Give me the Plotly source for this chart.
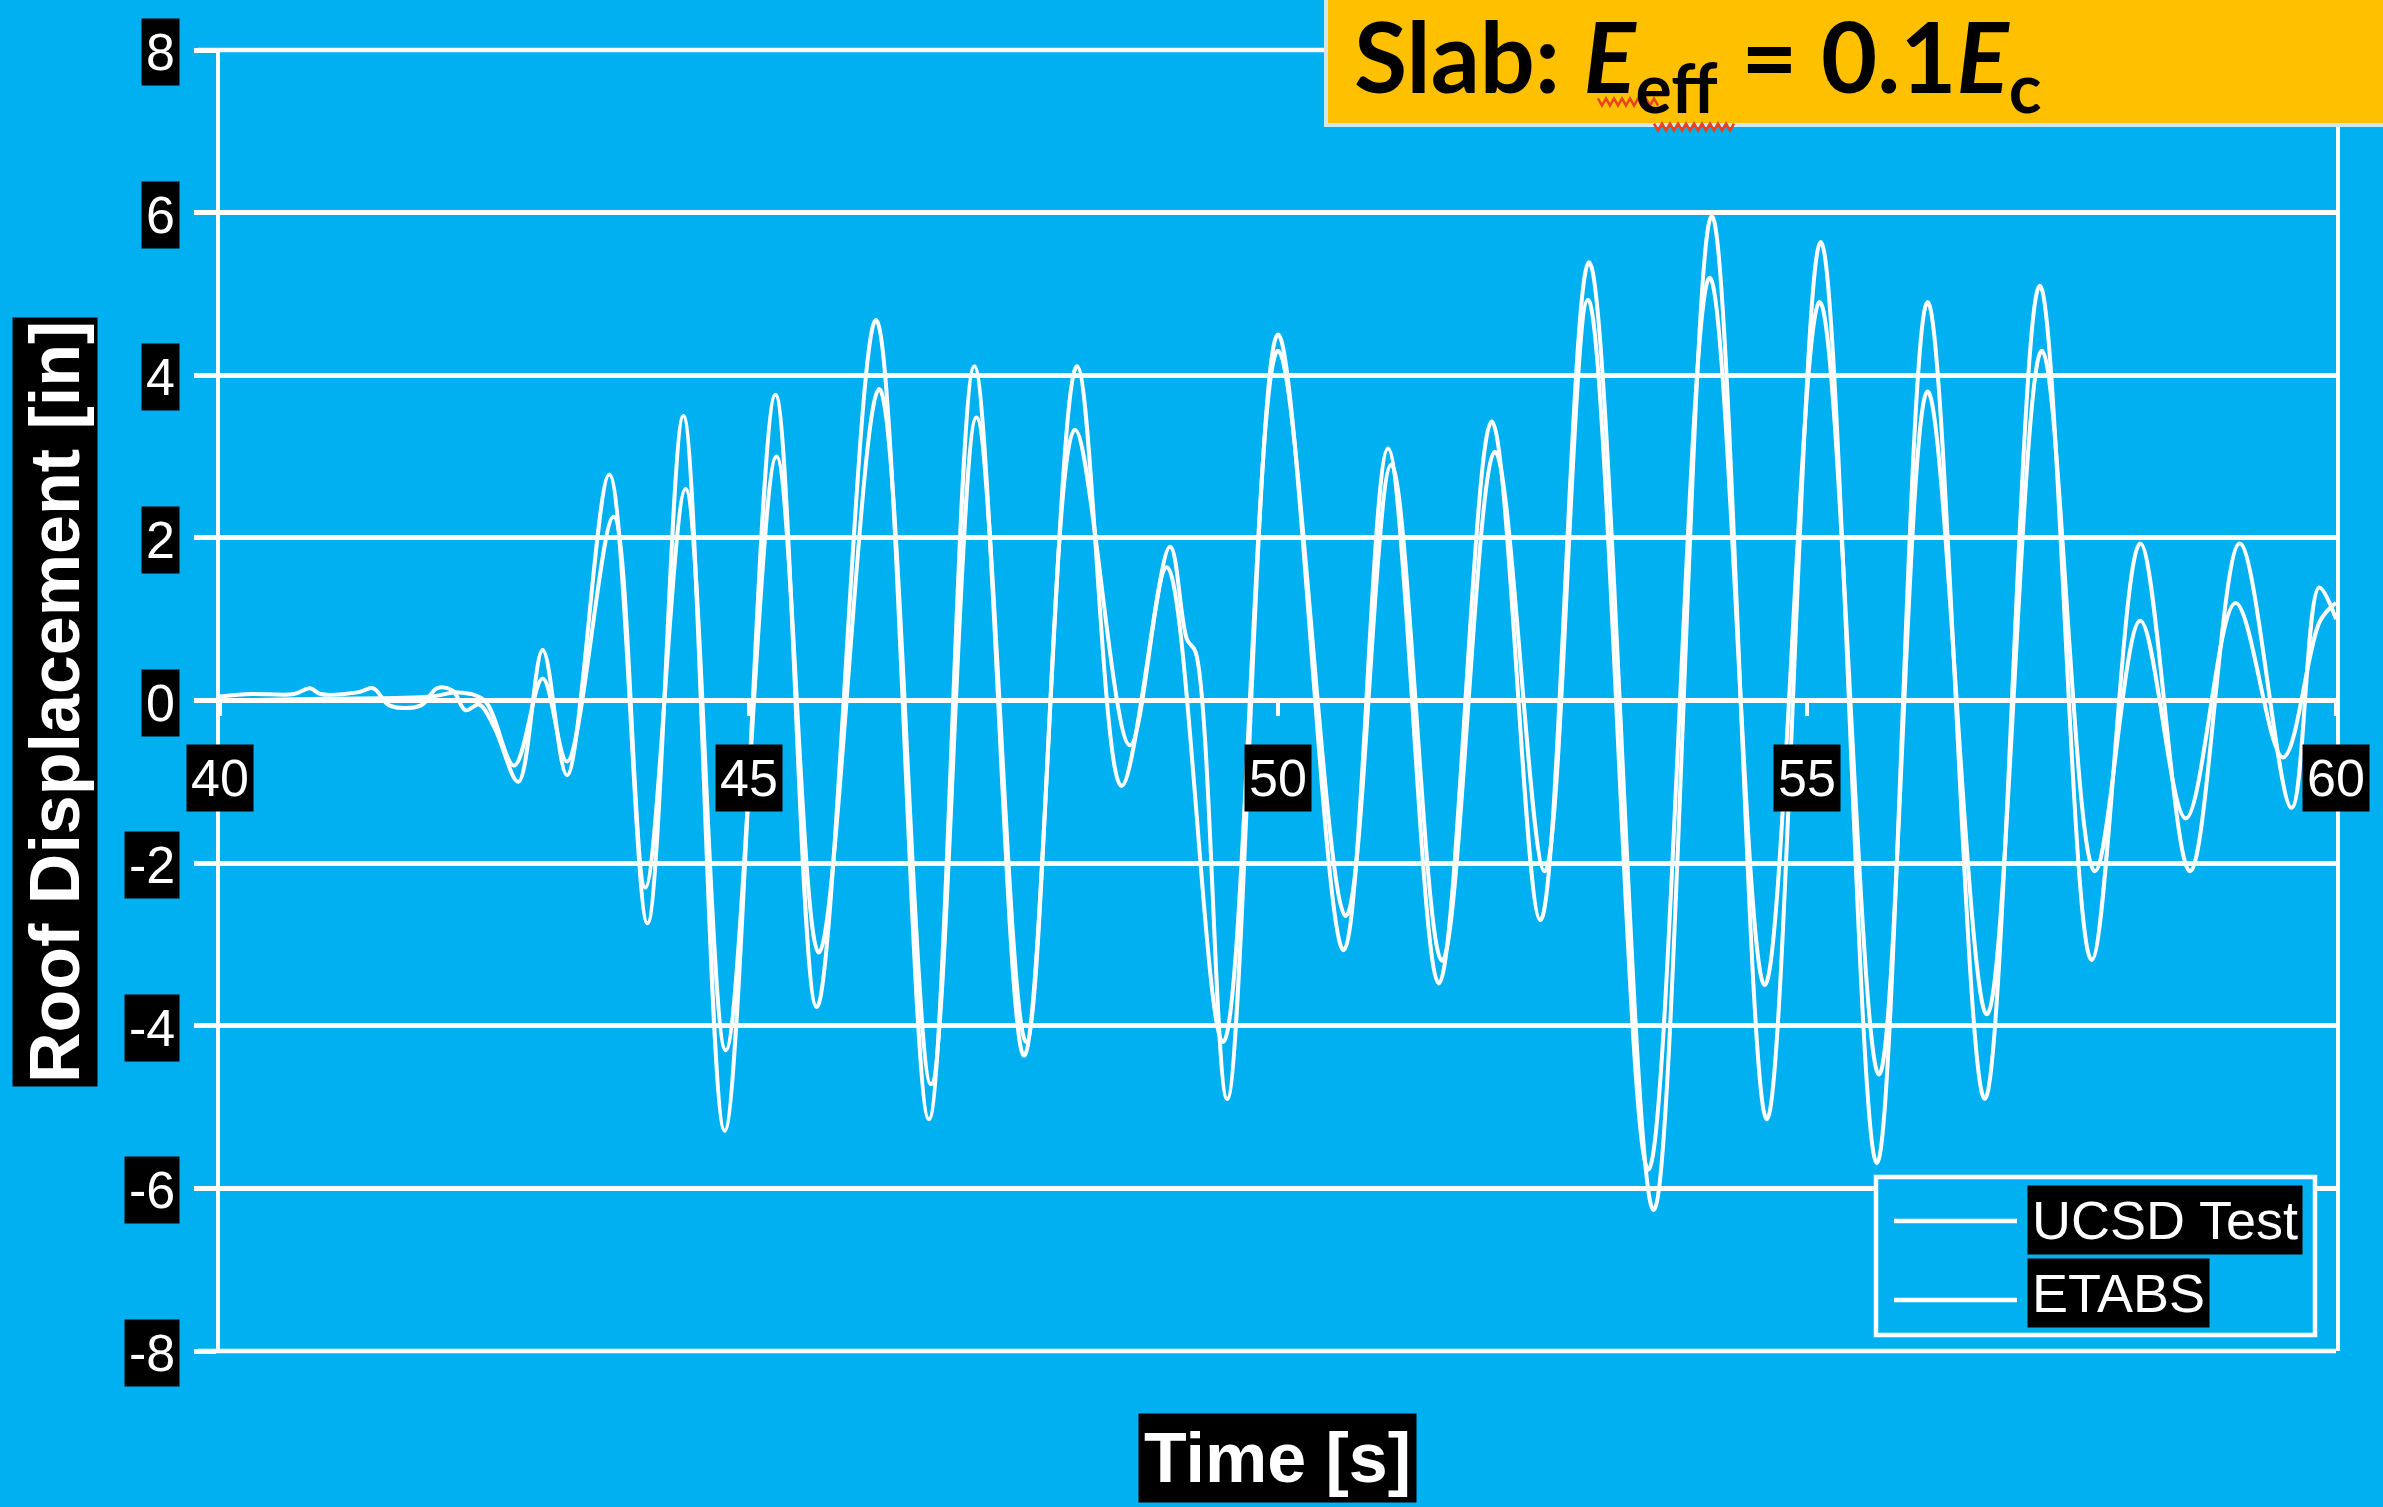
import plotly.graph_objects as go

# ---- data -------------------------------------------------------------
ucsd_t = [40.00, 40.30, 40.70, 40.85, 40.95, 41.30, 41.45, 41.60, 41.90, 42.05,
          42.20, 42.32, 42.45, 42.60, 42.82, 43.05, 43.28, 43.68, 44.04, 44.38,
          44.77, 45.25, 45.64, 46.20, 46.70, 47.13, 47.60, 48.10, 48.52, 48.98,
          49.14, 49.22, 49.52, 50.00, 50.62, 51.04, 51.52, 52.02, 52.48, 52.94,
          53.55, 54.10, 54.62, 55.13, 55.66, 56.14, 56.68, 57.20, 57.69, 58.15,
          58.62, 59.09, 59.58, 59.84, 60.00]
ucsd_disp = [0.05, 0.08, 0.08, 0.15, 0.08, 0.10, 0.15, -0.06, -0.06, 0.15,
             0.12, -0.12, -0.05, -0.35, -1.00, 0.62, -0.92, 2.78, -2.74, 3.50,
             -5.29, 3.76, -3.77, 4.68, -5.15, 4.11, -4.37, 4.11, -1.05, 1.89,
             0.75, 0.60, -4.90, 4.50, -3.07, 3.10, -3.48, 3.43, -2.70, 5.39,
             -6.27, 5.96, -5.15, 5.64, -5.69, 4.90, -4.90, 5.10, -3.19, 1.93,
             -2.10, 1.93, -1.32, 1.39, 1.00]

etabs_t = [40.00, 41.00, 42.00, 42.25, 42.50, 42.78, 43.05, 43.28, 43.72, 44.02,
           44.40, 44.78, 45.26, 45.66, 46.23, 46.72, 47.15, 47.62, 48.08, 48.60,
           48.95, 49.48, 50.00, 50.64, 51.07, 51.55, 52.05, 52.52, 52.93, 53.50,
           54.08, 54.60, 55.12, 55.68, 56.14, 56.70, 57.22, 57.72, 58.15, 58.58,
           59.05, 59.50, 59.85, 60.00]
etabs_disp = [0.00, 0.02, 0.05, 0.10, 0.00, -0.80, 0.27, -0.75, 2.26, -2.30,
              2.60, -4.30, 3.00, -3.10, 3.83, -4.72, 3.48, -4.20, 3.33, -0.55,
              1.64, -4.20, 4.30, -2.65, 2.90, -3.20, 3.06, -2.10, 4.93, -5.77,
              5.20, -3.50, 4.90, -4.60, 3.80, -3.86, 4.30, -2.10, 0.98, -1.45,
              1.20, -0.70, 0.98, 1.20]

x_ticks = [40, 45, 50, 55, 60]
y_ticks = [8, 6, 4, 2, 0, -2, -4, -6, -8]
series_names = ["UCSD Test", "ETABS"]

# ---- page geometry (pixels) ------------------------------------------
W, H = 2383, 1507
L, R, T, B = 220, 2336, 50, 1351
BG = "#00B0F0"
ORANGE = "#FFC000"


def px(x):
    return (x - L) / (R - L)


def py(y):
    return (B - y) / (B - T)


fig = go.Figure()
for t, v, name in [(ucsd_t, ucsd_disp, series_names[0]),
                   (etabs_t, etabs_disp, series_names[1])]:
    fig.add_trace(go.Scatter(x=t, y=v, mode="lines", name=name,
                             line=dict(color="white", width=4,
                                       shape="spline", smoothing=1.0),
                             showlegend=False))

tick_font = dict(family="Liberation Sans, Arial, sans-serif", size=52, color="white")
title_font = dict(family="Liberation Sans, Arial, sans-serif", size=70, color="white")

annotations = []
# y tick labels in black boxes
for v in y_ticks:
    annotations.append(dict(x=0, xref="paper", xanchor="right", xshift=-40,
                            y=v, yref="y", yanchor="middle", yshift=-2,
                            text=str(v), showarrow=False, font=tick_font,
                            bgcolor="black", borderpad=4))
# x tick labels hanging below the zero line
for t in x_ticks:
    annotations.append(dict(x=t, xref="x", xanchor="center",
                            y=0, yref="y", yanchor="top", yshift=-43,
                            text=str(t), showarrow=False, font=tick_font,
                            bgcolor="black", borderpad=4))
# axis titles
annotations.append(dict(x=px(55), xref="paper", xanchor="center",
                        y=py(702), yref="paper", yanchor="middle",
                        text="<b>Roof Displacement [in]</b>", textangle=-90,
                        showarrow=False, font=title_font, bgcolor="black", borderpad=3))
annotations.append(dict(x=px(1277), xref="paper", xanchor="center",
                        y=py(1458), yref="paper", yanchor="middle",
                        text="<b>Time [s]</b>", showarrow=False,
                        font=title_font, bgcolor="black", borderpad=5))
# banner text
annotations.append(dict(x=px(1352), xref="paper", xanchor="left",
                        y=py(62), yref="paper", yanchor="middle",
                        text="<b>Slab: <i>E</i><sub>eff</sub> = 0.1<i>E</i><sub>c</sub></b>",
                        showarrow=False,
                        font=dict(family="Lato, sans-serif", size=97, color="black")))
# legend labels
legend_font = dict(family="Liberation Sans, Arial, sans-serif", size=54, color="white")
for name, yc in zip(series_names, [1220, 1293]):
    annotations.append(dict(x=px(2027), xref="paper", xanchor="left",
                            y=py(yc), yref="paper", yanchor="middle",
                            text=name, showarrow=False, font=legend_font,
                            bgcolor="black", borderpad=4))

shapes = [
    # top and bottom gridlines, which close the frame
    dict(type="line", xref="paper", yref="paper", layer="below",
         x0=px(198), x1=1, y0=1, y1=1, line=dict(color="white", width=4.5)),
    dict(type="line", xref="paper", yref="paper", layer="below",
         x0=px(198), x1=1, y0=0, y1=0, line=dict(color="white", width=4.5)),
    # banner box
    dict(type="rect", xref="paper", yref="paper", layer="above",
         x0=px(1326), x1=px(2400), y0=py(125), y1=py(-10),
         fillcolor=ORANGE, line=dict(color="#D3E6EE", width=4)),
    # legend frame
    dict(type="rect", xref="paper", yref="paper", layer="above",
         x0=px(1876), x1=px(2315), y0=py(1335), y1=py(1177),
         fillcolor=BG, line=dict(color="white", width=4.5)),
]
for yc in [1221, 1300]:
    shapes.append(dict(type="line", xref="paper", yref="paper", layer="above",
                       x0=px(1894), x1=px(2017), y0=py(yc), y1=py(yc),
                       line=dict(color="white", width=4.5)))


def wavy(x0, x1, y, amp=3.5, step=4):
    """Zig-zag proofing underline, built in pixel space."""
    pts, k, x = [], 0, x0
    while x <= x1:
        pts.append((px(x), py(y + (amp if k % 2 else -amp))))
        x += step
        k += 1
    return "M " + " L ".join(f"{a:.5f},{b:.5f}" for a, b in pts)


for x0, x1, y in [(1598, 1658, 102), (1654, 1736, 127)]:
    shapes.append(dict(type="path", xref="paper", yref="paper", layer="above",
                       path=wavy(x0, x1, y),
                       line=dict(color="#E8401C", width=2.5)))

fig.update_layout(
    width=W, height=H,
    margin=dict(l=L, r=W - R, t=T, b=H - B, pad=0),
    paper_bgcolor=BG, plot_bgcolor=BG,
    showlegend=False,
    annotations=annotations, shapes=shapes,
    xaxis=dict(range=[40, 60], showgrid=False, zeroline=False,
               anchor="free", position=0.5, showline=False,
               ticks="outside", tickvals=x_ticks, ticklen=14, tickwidth=4,
               tickcolor="white", showticklabels=False),
    yaxis=dict(range=[-8, 8], tickvals=y_ticks, showgrid=True,
               gridcolor="white", gridwidth=4.5, zeroline=False,
               showline=True, linecolor="white", linewidth=4, mirror=True,
               ticks="outside", ticklen=22, tickwidth=4.5, tickcolor="white",
               showticklabels=False),
)

fig.write_html("out.html")
